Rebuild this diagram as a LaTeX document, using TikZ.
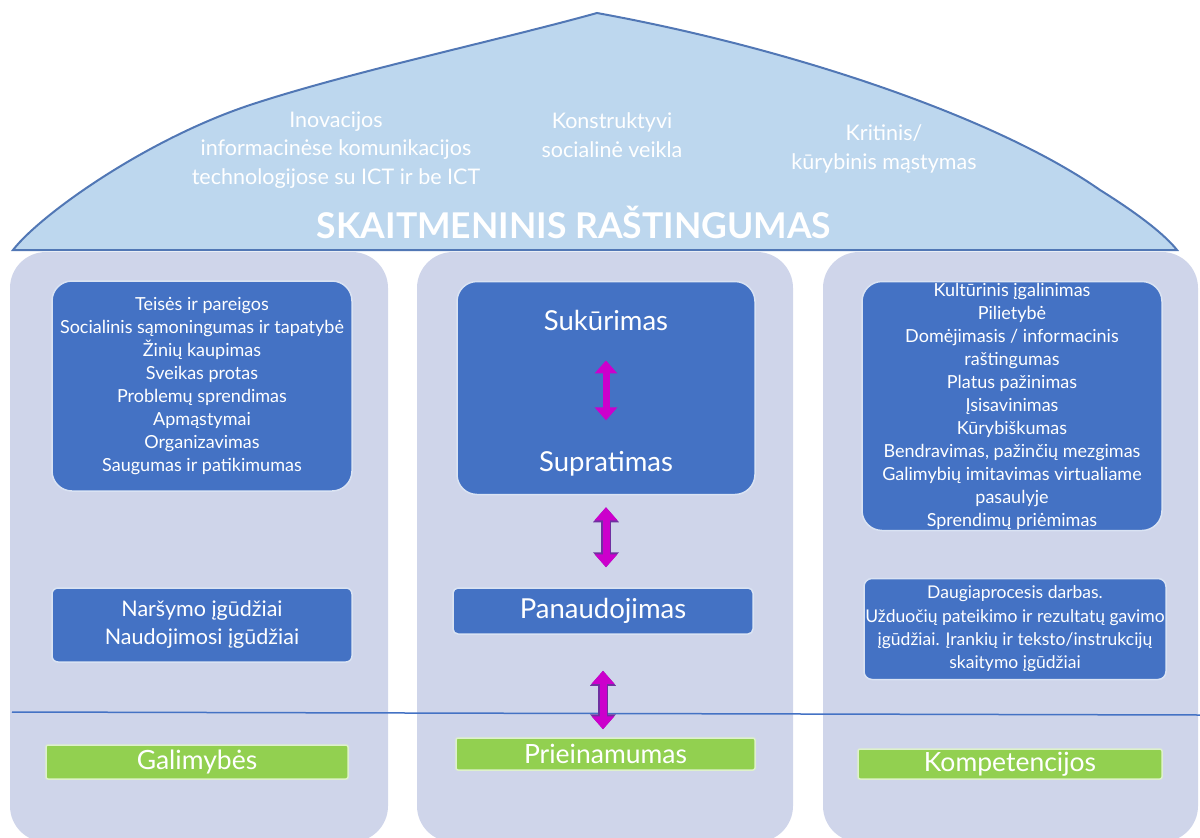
\documentclass[tikz,border=0pt]{standalone}
\usepackage{fontspec}
\setmainfont{Lato}
\usetikzlibrary{arrows.meta,positioning,calc}

\definecolor{roofblue}{HTML}{BDD7EE}
\definecolor{roofline}{HTML}{5177B5}
\definecolor{pillarcol}{HTML}{CFD5EA}
\definecolor{boxblue}{HTML}{4472C4}
\definecolor{boxgreen}{HTML}{92D050}
\definecolor{arrowmag}{HTML}{CC00CC}
\definecolor{arrowpur}{HTML}{7030A0}

\tikzset{
  pillar/.style={fill=pillarcol, rounded corners=36pt},
  bluebox/.style={fill=boxblue, draw=white!80!boxblue, line width=1.5pt, text=white, align=center, inner sep=0pt},
  greenbox/.style={fill=boxgreen, draw=white!70!boxgreen, line width=1.5pt, text=white, rounded corners=2pt, font=\fontsize{26.5}{30}\selectfont, inner sep=0pt},
  rooftext/.style={text=white, align=center, font=\fontsize{21.5}{28.5}\selectfont},
  midtext/.style={text=white, inner sep=0pt, font=\fontsize{27.5}{30}\selectfont},
  bigarrow/.style={arrowmag, line width=7pt, {Triangle[width=22pt,length=13pt]}-{Triangle[width=22pt,length=13pt]}},
  outlined/.style={preaction={draw=arrowpur, line width=9.5pt, {Triangle[width=25pt,length=15pt]}-{Triangle[width=25pt,length=15pt]}}}
}

\begin{document}
\begin{tikzpicture}[x=1pt,y=-1pt]
\useasboundingbox (0,0) rectangle (1200,838);
% three pillars
\fill[pillar] (10,252) rectangle (388,842);
\fill[pillar] (417,252) rectangle (793,842);
\fill[pillar] (823,252) rectangle (1198,842);
% roof
\draw[fill=roofblue, draw=roofline, line width=2pt] (13,250) .. controls (40,215) and (145,140) .. (250,105)
  .. controls (350,72) and (500,40) .. (597,13)
  .. controls (800,50) and (1000,120) .. (1100,190) .. controls (1140,215) and (1165,235) .. (1177,250) -- cycle;
\node[rooftext] (innov) at (336,150) {Inovacijos\\informacinėse komunikacijos\\technologijose su ICT ir be ICT};
\node[rooftext] (konstr) at (612,135) {Konstruktyvi\\socialinė veikla};
\node[rooftext] (krit) at (884,149) {Kritinis/\\kūrybinis mąstymas};
\node[text=white, font=\bfseries\fontsize{35.5}{40}\selectfont] (title) at (574,222) {SKAITMENINIS RAŠTINGUMAS};
% base line
\draw[boxblue, line width=1.5pt] (12,712) -- (1200,715);

% left pillar
\node[bluebox, rounded corners=20pt, minimum width=300pt, minimum height=210pt, font=\fontsize{18}{23}\selectfont] (rights) at (202,386)
  {Teisės ir pareigos\\Socialinis sąmoningumas ir tapatybė\\Žinių kaupimas\\Sveikas protas\\Problemų sprendimas\\Apmąstymai\\Organizavimas\\Saugumas ir patikimumas};
\node[bluebox, rounded corners=6pt, minimum width=300pt, minimum height=74pt, font=\fontsize{21.5}{28}\selectfont] (skills) at (202,625)
  {Naršymo įgūdžiai\\Naudojimosi įgūdžiai};
\node[greenbox, minimum width=302pt, minimum height=34pt] (galimybes) at (197,762) {Galimybės};

% middle pillar
\node[bluebox, rounded corners=20pt, minimum width=298pt, minimum height=213pt] (understbox) at (606,388) {};
\node[midtext] (sukurimas) at (606,320) {Sukūrimas};
\node[midtext] (supratimas) at (606,464) {Supratimas};
\node[bluebox, rounded corners=5pt, minimum width=300pt, minimum height=46pt, font=\fontsize{27.5}{30}\selectfont] (panaud) at (603,611) {Panaudojimas};
\node[greenbox, minimum width=299pt, minimum height=32pt] (prieina) at (605.5,754) {Prieinamumas};
\draw[bigarrow, shorten <=30pt, shorten >=31pt] (sukurimas) -- (supratimas);
\draw[bigarrow, outlined, shorten <=12pt, shorten >=20pt] (understbox.south) -- (understbox.south |- panaud.north);
\draw[bigarrow, outlined, shorten <=36pt, shorten >=8pt] (panaud.south) -- (panaud.south |- prieina.north);

% right pillar
\node[bluebox, rounded corners=20pt, minimum width=300pt, minimum height=249pt, font=\fontsize{18}{23}\selectfont] (culture) at (1012,406)
  {Kultūrinis įgalinimas\\Pilietybė\\Domėjimasis / informacinis\\raštingumas\\Platus pažinimas\\Įsisavinimas\\Kūrybiškumas\\Bendravimas, pažinčių mezgimas\\Galimybių imitavimas virtualiame\\pasaulyje\\Sprendimų priėmimas};
\node[bluebox, rounded corners=8pt, minimum width=302pt, minimum height=101pt, font=\fontsize{17.5}{23.3}\selectfont] (multitask) at (1015,629)
  {Daugiaprocesis darbas.\\Užduočių pateikimo ir rezultatų gavimo\\įgūdžiai. Įrankių ir teksto/instrukcijų\\skaitymo įgūdžiai};
\node[greenbox, minimum width=304pt, minimum height=30pt] (kompet) at (1010,764) {Kompetencijos};
\end{tikzpicture}
\end{document}
